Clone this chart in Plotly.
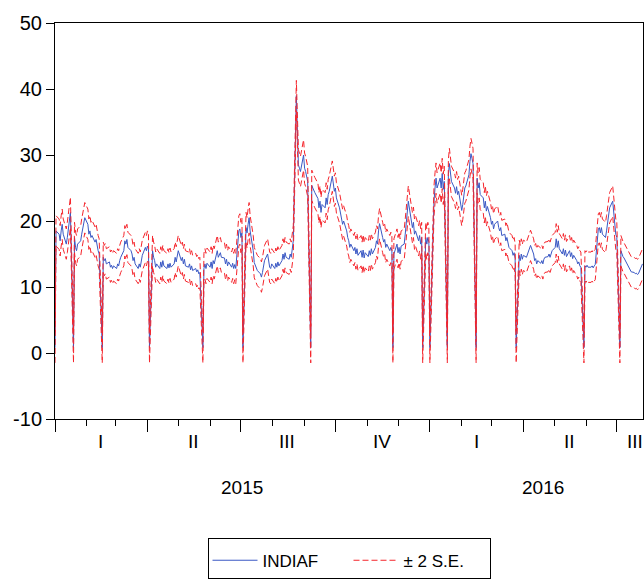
import pandas as pd
import plotly.graph_objects as go

# ---------------- data ----------------
# Forecast INDIAF, business days, one row per week (Mon..Fri), first week starts Mon 2014-12-29
first_week_monday = "2014-12-29"
weeks = [
    [None, None, None, 0.8, 18.5],
    [18.0, 17.0, 18.5, 19.5, 18.0],
    [16.5, 17.5, 19.0, 20.5, 21.3],
    [0.8, 17.5, 16.0, 15.5, 16.5],
    [17.0, 18.0, 19.0, 19.8, 20.5],
    [19.5, 18.0, 18.5, 17.5, 17.8],
    [16.8, 17.2, 16.0, 15.5, 15.0],
    [0.8, 14.5, 14.0, 14.3, 13.5],
    [13.8, 13.0, 13.3, 12.8, 13.2],
    [12.8, 13.5, 13.2, 14.0, 14.5],
    [15.5, 17.0, 16.5, 17.2, 16.0],
    [15.5, 15.0, 14.0, 14.5, 13.5],
    [12.8, 13.5, 13.0, 14.2, 14.8],
    [16.0, 15.5, 16.2, 15.8, 0.8],
    [15.5, 14.5, 14.0, 13.0, 13.5],
    [12.8, 13.8, 13.0, 14.0, 13.2],
    [12.8, 13.5, 12.9, 13.6, 13.0],
    [13.5, 14.5, 13.8, 15.0, 15.5],
    [14.0, 14.5, 13.5, 14.2, 13.2],
    [13.0, 13.5, 12.6, 13.2, 12.5],
    [12.8, 12.3, 12.6, 12.0, 12.2],
    [0.8, 12.8, 13.5, 12.8, 13.6],
    [13.0, 13.8, 12.8, 14.0, 13.5],
    [15.5, 14.5, 15.0, 15.2, 14.5],
    [14.4, 13.5, 14.2, 13.2, 13.8],
    [13.0, 13.6, 12.8, 13.4, 12.8],
    [18.5, 18.8, 17.5, 18.2, 0.8],
    [19.0, 18.2, 19.5, 20.5, 18.5],
    [15.5, 13.7, 13.2, 12.8, 12.5],
    [12.0, 11.5, 12.2, 13.0, 14.0],
    [15.0, 13.5, 13.0, 12.8, 13.5],
    [12.8, 13.6, 13.0, 13.8, 13.2],
    [14.0, 15.0, 14.2, 15.2, 14.5],
    [14.2, 15.0, 14.5, 15.5, 17.0],
    [39.0, 32.0, 28.5, 28.0, 27.5],
    [30.0, 28.0, 27.5, 26.5, 26.0],
    [0.8, 25.4, 25.0, 24.5, 24.3],
    [23.4, 22.0, 23.0, 21.3, 22.5],
    [22.0, 23.5, 22.5, 24.0, 24.5],
    [26.8, 25.5, 24.5, 25.0, 23.5],
    [22.0, 21.0, 20.5, 19.5, 20.0],
    [18.5, 17.5, 17.0, 16.0, 16.5],
    [15.5, 16.0, 15.0, 15.8, 14.8],
    [15.5, 14.5, 15.6, 14.4, 15.2],
    [14.6, 15.5, 14.8, 15.8, 15.0],
    [16.0, 17.0, 16.5, 18.5, 19.6],
    [17.5, 16.8, 17.2, 16.0, 16.5],
    [15.5, 16.0, 15.5, 0.8, 15.0],
    [16.5, 15.2, 16.0, 15.0, 16.2],
    [16.5, 18.0, 19.5, 21.0, 23.0],
    [20.0, 19.0, 19.8, 18.0, 18.5],
    [17.0, 17.8, 16.5, 17.5, 0.8],
    [17.5, 16.5, 17.5, 16.8, 0.8],
    [20.5, 23.0, 25.0, 26.5, 25.0],
    [26.5, 25.0, 27.2, 24.8, 26.0],
    [0.8, 27.0, 28.7, 27.5, 26.0],
    [25.0, 24.2, 25.2, 24.0, 24.5],
    [21.6, 22.5, 24.2, 25.0, 25.3],
    [27.0, 29.0, 30.2, 29.5, 28.7],
    [0.8, 26.5, 25.0, 25.8, 24.0],
    [23.5, 22.0, 23.0, 21.5, 22.2],
    [20.5, 19.5, 20.0, 18.8, 19.5],
    [20.0, 19.0, 18.5, 19.0, 17.8],
    [18.0, 17.0, 17.5, 16.5, 16.0],
    [15.5, 14.8, 15.2, 14.3, 0.8],
    [14.8, 14.0, 15.0, 14.2, 14.8],
    [14.5, 15.0, 15.5, 16.0, 16.3],
    [15.0, 14.0, 14.3, 13.5, 14.0],
    [13.6, 14.0, 13.5, 14.2, 14.5],
    [14.6, 15.0, 14.5, 15.2, 15.5],
    [16.0, 17.3, 16.0, 17.0, 15.8],
    [15.0, 15.8, 14.8, 15.6, 14.6],
    [15.5, 14.6, 15.2, 14.3, 14.8],
    [14.0, 13.5, 13.8, 13.2, 13.0],
    [0.8, 13.2, 13.0, 13.3, 13.0],
    [13.0, 13.2, 12.9, 13.2, 13.4],
    [18.8, 19.0, 18.2, 19.0, 18.0],
    [17.5, 18.5, 19.5, 21.0, 22.0],
    [23.0, 21.0, 19.5, 18.0, 17.5],
    [0.8, 15.5, 15.0, 14.6, 14.4],
    [13.5, 13.0, 12.8, 12.5, 12.3],
    [12.2, 12.0, 12.1, 11.9, 12.0],
    [13.0, 13.5, None, None, None],
]
two_se = 2.3  # half-width of the +/- 2 S.E. band

x_start = "2015-01-01"
x_end = "2016-07-26 12:00"

y_tick_values = [-10, 0, 10, 20, 30, 40, 50]
y_tick_labels = ["-10", "0", "10", "20", "30", "40", "50"]

quarter_labels = ["I", "II", "III", "IV", "I", "II", "III"]
quarter_label_dates = ["2015-02-14", "2015-05-16", "2015-08-15", "2015-11-15",
                       "2016-02-15", "2016-05-16", "2016-07-19"]
year_labels = ["2015", "2016"]
year_label_dates = ["2015-07-02", "2016-04-20"]

# ---------------- build series ----------------
mondays = pd.date_range(first_week_monday, periods=len(weeks), freq="7D")
dates, fc = [], []
for monday, row in zip(mondays, weeks):
    for d, v in enumerate(row):
        if v is not None:
            dates.append(monday + pd.Timedelta(days=d))
            fc.append(v)
upper = [v + two_se for v in fc]
lower = [v - two_se for v in fc]

FONT = "Liberation Sans, Arial, sans-serif"
BLUE = "#3a58c4"
RED = "#f5242b"

fig = go.Figure()
fig.add_trace(go.Scatter(x=dates, y=fc, mode="lines", name="INDIAF",
                         line=dict(color=BLUE, width=1)))
fig.add_trace(go.Scatter(x=dates, y=upper, mode="lines", name="± 2 S.E.",
                         legendgroup="se", line=dict(color=RED, width=1, dash="6px,3px")))
fig.add_trace(go.Scatter(x=dates, y=lower, mode="lines", name="± 2 S.E.",
                         legendgroup="se", showlegend=False,
                         line=dict(color=RED, width=1, dash="6px,3px")))

annotations = []
for lab, d in zip(quarter_labels, quarter_label_dates):
    annotations.append(dict(x=d, y=-0.056, xref="x", yref="paper", text=lab,
                            showarrow=False, yanchor="middle",
                            font=dict(family=FONT, size=19, color="black")))
for lab, d in zip(year_labels, year_label_dates):
    annotations.append(dict(x=d, y=-0.174, xref="x", yref="paper", text=lab,
                            showarrow=False, yanchor="middle",
                            font=dict(family=FONT, size=19, color="black")))

fig.update_layout(
    width=644, height=586,
    margin=dict(l=55, r=1, t=23, b=167, autoexpand=False),
    paper_bgcolor="white", plot_bgcolor="white",
    font=dict(family=FONT, size=19, color="black"),
    showlegend=True,
    legend=dict(orientation="h", x=0.5, xanchor="center", y=-0.30, yanchor="top",
                bordercolor="black", borderwidth=1, bgcolor="white",
                font=dict(family=FONT, size=17, color="black"),
                itemwidth=45, entrywidth=81, entrywidthmode="pixels",
                title=dict(text=" ", side="top", font=dict(size=3))),
    annotations=annotations,
    xaxis=dict(type="date", range=[x_start, x_end], automargin=False,
               showgrid=False, zeroline=False,
               showline=True, linecolor="black", linewidth=1, mirror=True,
               ticks="outside", ticklen=12, tickcolor="black", tickwidth=1,
               tick0="2015-01-01", dtick="M3", showticklabels=False,
               minor=dict(ticks="outside", ticklen=6, tickcolor="black",
                          tick0="2015-01-01", dtick="M1", showgrid=False)),
    yaxis=dict(range=[-10, 50], tickmode="array",
               tickvals=y_tick_values, ticktext=y_tick_labels, automargin=False,
               showgrid=False, zeroline=False,
               showline=True, linecolor="black", linewidth=1, mirror=True,
               ticks="outside", ticklen=8, tickcolor="black", tickwidth=1,
               tickfont=dict(family=FONT, size=20, color="black")),
)

# place the figure at the page's top-left corner, without scrollbars
fig.write_html("out.html",
               config={"displayModeBar": False},
               post_script="document.body.style.margin='0';"
                           "document.body.style.overflow='hidden';")
